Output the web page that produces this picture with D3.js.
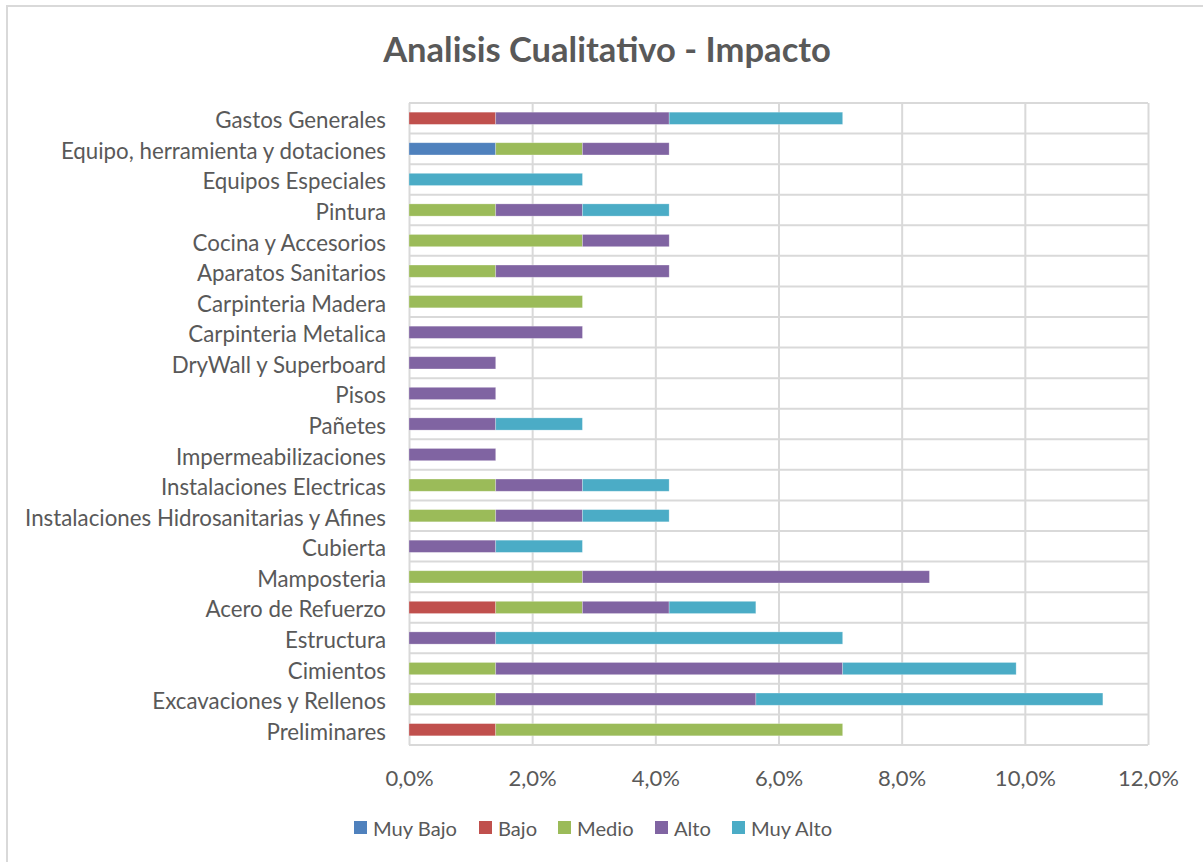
<!DOCTYPE html>
<html><head><meta charset="utf-8">
<script src="https://cdn.jsdelivr.net/npm/d3@7"></script>
<style>
body{margin:0;background:#fff;}
svg{display:block;font-family:Lato,"Open Sans",sans-serif;}
</style></head>
<body><svg id="c" width="1203" height="862"></svg>
<script>
const categories = ["Gastos Generales","Equipo, herramienta y dotaciones","Equipos Especiales","Pintura","Cocina y Accesorios","Aparatos Sanitarios","Carpinteria Madera","Carpinteria Metalica","DryWall y Superboard","Pisos","Pañetes","Impermeabilizaciones","Instalaciones Electricas","Instalaciones Hidrosanitarias y Afines","Cubierta","Mamposteria","Acero de Refuerzo","Estructura","Cimientos","Excavaciones y Rellenos","Preliminares"];
const seriesNames = ["Muy Bajo","Bajo","Medio","Alto","Muy Alto"];
const muyBajo = [0,1.408,0,0,0,0,0,0,0,0,0,0,0,0,0,0,0,0,0,0,0];
const bajo    = [1.408,0,0,0,0,0,0,0,0,0,0,0,0,0,0,0,1.408,0,0,0,1.408];
const medio   = [0,1.408,0,1.408,2.817,1.408,2.817,0,0,0,0,0,1.408,1.408,0,2.817,1.408,0,1.408,1.408,5.634];
const alto    = [2.817,1.408,0,1.408,1.408,2.817,0,2.817,1.408,1.408,1.408,1.408,1.408,1.408,1.408,5.634,1.408,1.408,5.634,4.225,0];
const muyAlto = [2.817,0,2.817,1.408,0,0,0,0,0,0,1.408,0,1.408,1.408,1.408,0,1.408,5.634,2.817,5.634,0];
const xTicks = [0,2,4,6,8,10,12];
const colors = ["#4f81bd","#c0504d","#9bbb59","#8064a2","#4bacc6"];

(function(){
const seriesVals = [muyBajo,bajo,medio,alto,muyAlto];
const rows = categories.map((c,i)=>{const o={cat:c};seriesNames.forEach((s,j)=>o[s]=seriesVals[j][i]);return o;});

const svg = d3.select("#c");
const txt = "#595959", grid = "#d9d9d9";

svg.append("rect").attr("x",7).attr("y",6).attr("width",1210).attr("height",880)
  .attr("fill","none").attr("stroke",grid).attr("stroke-width",2);

const pL=409,pR=1148,pT=103,pB=745;
const x = d3.scaleLinear().domain([0,12]).range([pL,pR]);
const y = d3.scaleBand().domain(categories).range([pT,pB]).paddingInner(0.6).paddingOuter(0.3);
const step = y.step();
const loc = d3.formatLocale({decimal:",",thousands:".",grouping:[3],currency:["","€"]});
const fmt = v => loc.format(".1f")(v)+"%";

function fit(sel, target, base){
  sel.attr("font-size",base);
  const w = sel.node().getComputedTextLength();
  return base*target/w;
}

const title = svg.append("text").attr("x",607).attr("y",62).attr("text-anchor","middle")
  .attr("fill",txt).attr("font-weight","bold").text("Analisis Cualitativo - Impacto");
title.attr("font-size", fit(title,448,30));

const gx = svg.append("g").attr("transform",`translate(0,${pB})`)
  .call(d3.axisBottom(x).tickValues(xTicks).tickSize(-(pB-pT)).tickFormat(fmt).tickPadding(0));
gx.select(".domain").remove();
gx.selectAll(".tick line").attr("stroke",grid).attr("stroke-width",2);
const tt = gx.selectAll(".tick text").attr("fill",txt).attr("dy",0).attr("y",41)
  .attr("font-family","Lato,sans-serif");
const tfs = fit(tt.filter(d=>d===12),61,20);
tt.attr("font-size",tfs);

const bounds = d3.range(categories.length+1).map(i=>pT+i*step);
svg.append("g").selectAll("line").data(bounds).join("line")
  .attr("x1",pL).attr("x2",pR).attr("y1",d=>d).attr("y2",d=>d)
  .attr("stroke",grid).attr("stroke-width",2);

const stack = d3.stack().keys(seriesNames)(rows);
svg.append("g").selectAll("g").data(stack).join("g").attr("fill",(d,i)=>colors[i])
  .selectAll("rect").data(d=>d.filter(e=>e[1]-e[0]>0)).join("rect")
  .attr("x",d=>x(d[0])).attr("width",d=>x(d[1])-x(d[0]))
  .attr("y",d=>y(d.data.cat)).attr("height",y.bandwidth())
  .attr("stroke","#fff").attr("stroke-opacity",0.35).attr("stroke-width",0.75);

const ya = svg.append("g").attr("transform",`translate(${pL},0)`)
  .call(d3.axisLeft(y).tickSize(0).tickPadding(23));
ya.select(".domain").remove();
const lbl = ya.selectAll(".tick text").attr("fill",txt).attr("font-family","Lato,sans-serif").attr("dy","0.45em");
const lfs = fit(lbl.filter(d=>d==="Instalaciones Hidrosanitarias y Afines"),361,19);
lbl.attr("font-size",lfs);

const legX = [354,479,558,655,732];
const lg = svg.append("g").selectAll("g").data(seriesNames).join("g")
  .attr("transform",(d,i)=>`translate(${legX[i]},828)`);
lg.append("rect").attr("x",0).attr("y",-7).attr("width",13).attr("height",13).attr("fill",(d,i)=>colors[i]);
const lt = lg.append("text").attr("x",19).attr("y",8).attr("fill",txt).text(d=>d);
const gfs = fit(lt.filter(d=>d==="Muy Bajo"),84,20);
lt.attr("font-size",gfs);
})();
</script></body></html>
